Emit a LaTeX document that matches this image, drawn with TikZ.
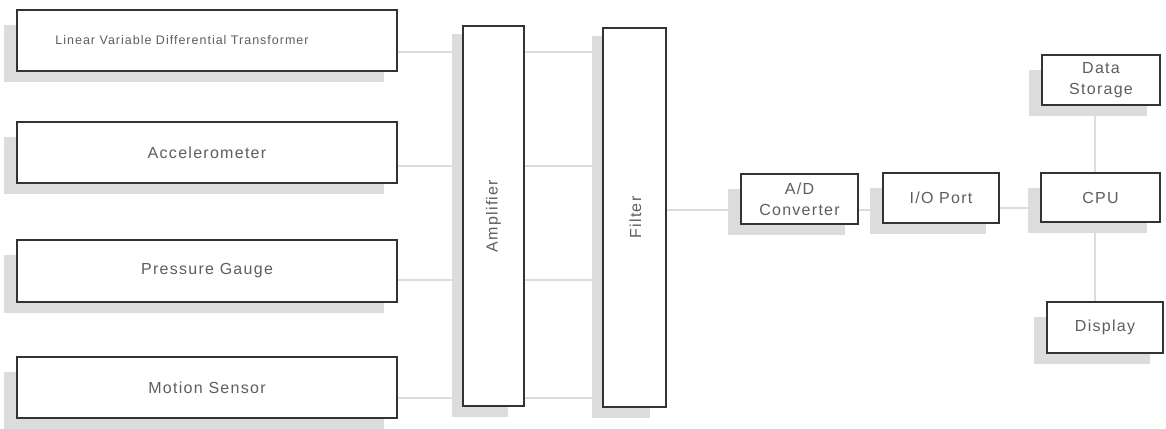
\documentclass[tikz,border=0pt]{standalone}
\usepackage{fontspec}
\setmainfont{Liberation Sans}[LetterSpace=8]
\usetikzlibrary{backgrounds,calc}
\definecolor{shadowgray}{HTML}{DCDCDC}
\definecolor{txt}{HTML}{5E5E5E}
\definecolor{edge}{HTML}{333333}
\begin{document}
\begin{tikzpicture}[x=1pt,y=-1pt,
  box/.style={draw=edge, line width=1.2pt, fill=white, inner sep=0pt, text=txt,
    font=\fontsize{16}{21}\selectfont, align=center},
  lab/.style={text=txt, font=\fontsize{16}{21}\selectfont, inner sep=0pt},
  conn/.style={draw=shadowgray, line width=2.5pt},
  shadowbox/.style={fill=shadowgray}]
\useasboundingbox (0,0) rectangle (1166,428);
% sensors
\node[box, minimum width=380, minimum height=61,
  label={[lab, font=\fontsize{12.5}{15}\selectfont, xshift=-25pt]center:Linear Variable Differential Transformer}] (lvdt) at (207,40.5) {};
\node[box, minimum width=380, minimum height=61] (acc) at (207,152.5) {Accelerometer};
\node[box, minimum width=380, minimum height=62] (press) at (207,271) {Pressure Gauge};
\node[box, minimum width=380, minimum height=61] (motion) at (207,387.5) {Motion Sensor};
% amplifier and filter
\node[box, minimum width=61, minimum height=380,
  label={[lab, rotate=90]center:Amplifier}] (amp) at (493.5,216) {};
\node[box, minimum width=63, minimum height=379,
  label={[lab, rotate=90, yshift=-1pt]center:Filter}] (filter) at (634.5,217.5) {};
% processing chain
\node[box, minimum width=117, minimum height=50] (ad) at (799.5,199) {A/D\\Converter};
\node[box, minimum width=116, minimum height=50] (io) at (941,198) {I/O Port};
\node[box, minimum width=119, minimum height=49] (cpu) at (1100.5,197.5) {CPU};
\node[box, minimum width=118, minimum height=50] (ds) at (1101,80) {Data\\Storage};
\node[box, minimum width=116, minimum height=51] (disp) at (1105,327.5) {Display};
\begin{scope}[on background layer]
  \foreach \n in {lvdt,acc,press,motion,ad,io,cpu,ds,disp}
    \path[shadowbox] ($(\n.south west)+(-12,10)$) rectangle ($(\n.north east)+(-14,16)$);
  \foreach \n in {amp,filter}
    \path[shadowbox] ($(\n.south west)+(-10,10)$) rectangle ($(\n.north east)+(-17,9)$);
  % sensors to amplifier, amplifier to filter
  \foreach \n/\s in {lvdt/11.5,acc/13.5,press/9,motion/10.5}{
    \draw[conn] ([yshift=-\s pt]\n.east) -- ([yshift=-\s pt]\n.east -| amp.west);
    \draw[conn] ([yshift=-\s pt]\n.east -| amp.east) -- ([yshift=-\s pt]\n.east -| filter.west);
  }
  \draw[conn] ([yshift=-11pt]ad.west -| filter.east) -- ([yshift=-11pt]ad.west);
  \draw[conn] ([yshift=-11pt]ad.east) -- ([yshift=-11pt]ad.east -| io.west);
  \draw[conn] ([yshift=-10pt]io.east) -- ([yshift=-10pt]io.east -| cpu.west);
  \draw[conn] ([xshift=-6pt]ds.south) -- ([xshift=-6pt]ds.south |- cpu.north);
  \draw[conn] ([xshift=-6pt]ds.south |- cpu.south) -- ([xshift=-6pt]ds.south |- disp.north);
\end{scope}
\end{tikzpicture}
\end{document}
